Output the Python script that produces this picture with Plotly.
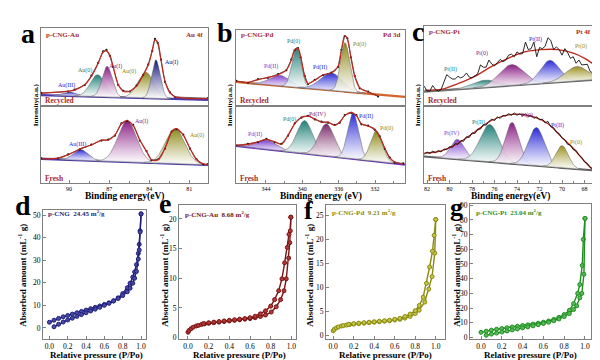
import numpy as np
import plotly.graph_objects as go

# ======================= DATA =======================
# ---- (a) p-CNG-Au, Au 4f ----
a_rec_E   = [92.08, 90.07, 89.57, 88.82, 88.33, 87.82, 87.45, 87.2, 86.95, 86.7, 86.32, 85.95,
             85.45, 84.95, 84.45, 84.07, 83.77, 83.57, 83.37, 83.12, 82.82, 82.45, 82.07, 79.6]
a_rec_fit = [0.163, 0.19, 0.204, 0.275, 0.379, 0.546, 0.69, 0.704, 0.65, 0.504, 0.275, 0.19,
             0.19, 0.254, 0.40, 0.525, 0.712, 0.846, 0.817, 0.588, 0.317, 0.171, 0.121, 0.096]
a_rec_raw = [0.168, 0.185, 0.212, 0.268, 0.388, 0.552, 0.697, 0.716, 0.642, 0.497, 0.268, 0.196,
             0.186, 0.262, 0.394, 0.532, 0.705, 0.856, 0.808, 0.594, 0.309, 0.176, 0.116, 0.101]
a_rec_bg = [0.14, 0.08]
a_rec_names  = ["Au(III)", "Au(0)", "Au(I)", "Au(0)", "Au(I)"]
a_rec_center = [89.95, 87.87, 87.15, 84.27, 83.5]
a_rec_height = [0.05, 0.28, 0.39, 0.33, 0.49]
a_rec_sigma  = [0.5, 0.55, 0.38, 0.6, 0.32]

a_fre_E   = [92.08, 90.83, 90.07, 89.2, 88.33, 87.58, 87.07, 86.57, 86.08, 85.65, 85.2, 84.7,
             84.2, 83.83, 83.32, 82.82, 82.32, 81.95, 81.45, 80.95, 80.45, 79.95, 79.6]
a_fre_fit = [0.312, 0.32, 0.363, 0.44, 0.491, 0.556, 0.556, 0.62, 0.769, 0.812, 0.748, 0.556,
             0.406, 0.299, 0.299, 0.449, 0.662, 0.705, 0.62, 0.449, 0.299, 0.244, 0.235]
a_fre_raw = [0.318, 0.316, 0.369, 0.434, 0.497, 0.55, 0.562, 0.614, 0.775, 0.806, 0.754, 0.55,
             0.412, 0.293, 0.305, 0.443, 0.668, 0.699, 0.626, 0.443, 0.305, 0.238, 0.241]
a_fre_bg = [0.31, 0.23]
a_fre_names  = ["Au(III)", "Au(I)", "Au(0)"]
a_fre_center = [89.12, 85.65, 82.07]
a_fre_height = [0.14, 0.54, 0.46]
a_fre_sigma  = [0.55, 0.7, 0.72]

# ---- (b) p-CNG-Pd, Pd 3d ----
b_rec_E   = [347.27, 345.98, 344.88, 343.78, 342.67, 341.76, 341.21, 340.84, 340.47, 340.18, 339.74,
             339.37, 338.63, 337.72, 336.8, 336.07, 335.7, 335.33, 335.04, 334.67, 334.23, 333.68,
             332.76, 331.66]
b_rec_fit = [0.325, 0.312, 0.346, 0.376, 0.41, 0.474, 0.603, 0.739, 0.752, 0.645, 0.389, 0.295,
             0.338, 0.41, 0.432, 0.517, 0.731, 0.923, 0.88, 0.645, 0.389, 0.239, 0.184, 0.132]
b_rec_raw = [0.33, 0.305, 0.352, 0.37, 0.418, 0.468, 0.61, 0.733, 0.758, 0.639, 0.395, 0.289,
             0.344, 0.404, 0.438, 0.511, 0.737, 0.917, 0.886, 0.639, 0.395, 0.233, 0.19, 0.126]
b_rec_bg = [0.315, 0.12]
b_rec_names  = ["Pd(II)", "Pd(0)", "Pd(II)", "Pd(0)"]
b_rec_center = [342.5, 340.65, 336.8, 335.3]
b_rec_height = [0.14, 0.52, 0.23, 0.64]
b_rec_sigma  = [1.1, 0.5, 1.2, 0.5]

b_fre_E   = [347.27, 345.98, 344.88, 343.96, 343.04, 342.31, 341.57, 340.84, 340.11, 339.37, 338.63,
             337.9, 337.17, 336.43, 335.88, 335.33, 334.6, 334.05, 333.5, 332.76, 332.03, 331.48,
             330.92, 330.37, 329.82, 328.9]
b_fre_fit = [0.491, 0.5, 0.534, 0.564, 0.534, 0.5, 0.62, 0.769, 0.855, 0.868, 0.833, 0.79, 0.79,
             0.748, 0.79, 0.876, 0.919, 0.876, 0.769, 0.739, 0.697, 0.598, 0.449, 0.32, 0.269, 0.244]
b_fre_raw = [0.485, 0.507, 0.528, 0.571, 0.527, 0.506, 0.613, 0.776, 0.849, 0.874, 0.826, 0.797,
             0.783, 0.755, 0.783, 0.883, 0.912, 0.882, 0.762, 0.746, 0.69, 0.605, 0.442, 0.327,
             0.262, 0.25]
b_fre_bg = [0.48, 0.235]
b_fre_names  = ["Pd(II)", "Pd(0)", "Pd(IV)", "Pd(II)", "Pd(0)"]
b_fre_center = [343.96, 339.74, 337.35, 334.4, 331.85]
b_fre_height = [0.12, 0.43, 0.42, 0.60, 0.40]
b_fre_sigma  = [1.1, 0.85, 0.85, 0.6, 0.65]

# ---- (c) p-CNG-Pt, Pt 4f ----
c_rec_E   = [82.2, 80.73, 79.25, 77.76, 76.28, 74.8, 73.32, 71.84, 70.36, 68.87, 67.99, 67.1]
c_rec_fit = [0.2, 0.207, 0.28, 0.37, 0.492, 0.594, 0.675, 0.703, 0.703, 0.654, 0.594, 0.512]
c_rec_raw = [0.248, 0.187, 0.187, 0.256, 0.207, 0.187, 0.207, 0.297, 0.390, 0.362, 0.337, 0.337,
             0.370, 0.350, 0.370, 0.411, 0.362, 0.350, 0.378, 0.402, 0.512, 0.484, 0.484, 0.573,
             0.524, 0.500, 0.541, 0.581, 0.553, 0.573, 0.634, 0.646, 0.614, 0.675, 0.646, 0.654,
             0.797, 0.703, 0.715, 0.797, 0.614, 0.728, 0.715, 0.744, 0.850, 0.817, 0.703, 0.736,
             0.703, 0.634, 0.715, 0.663, 0.594, 0.614, 0.533, 0.573, 0.512, 0.512, 0.520, 0.431,
             0.411, 0.573]
c_rec_bg = [0.18, 0.33]
c_rec_names  = ["Pt(II)", "Pt(0)", "Pt(II)", "Pt(0)"]
c_rec_center = [76.87, 74.5, 71.1, 68.7]
c_rec_height = [0.09, 0.26, 0.28, 0.18]
c_rec_sigma  = [1.1, 1.1, 0.85, 1.0]

c_fre_E   = [82.25, 80.73, 79.25, 77.76, 76.28, 74.8, 73.62, 72.43, 71.25, 70.06, 68.87, 67.99,
             67.25, 66.98]
c_fre_fit = [0.385, 0.415, 0.513, 0.662, 0.812, 0.885, 0.893, 0.855, 0.769, 0.598, 0.427, 0.278,
             0.171, 0.158]
c_fre_raw = [0.37, 0.40, 0.38, 0.41, 0.39, 0.42, 0.40, 0.44, 0.43, 0.47, 0.46, 0.51, 0.50, 0.55,
             0.54, 0.60, 0.59, 0.65, 0.64, 0.70, 0.70, 0.76, 0.75, 0.80, 0.83, 0.81, 0.86, 0.84,
             0.88, 0.87, 0.90, 0.88, 0.91, 0.88, 0.90, 0.87, 0.90, 0.86, 0.88, 0.84, 0.86, 0.82,
             0.83, 0.78, 0.80, 0.73, 0.72, 0.66, 0.64, 0.58, 0.56, 0.50, 0.49, 0.43, 0.42, 0.36,
             0.33, 0.27, 0.25, 0.20, 0.18, 0.15]
c_fre_bg = [0.341, 0.157]
c_fre_names  = ["Pt(IV)", "Pt(II)", "Pt(0)", "Pt(II)", "Pt(0)"]
c_fre_center = [79.3, 76.43, 74.44, 72.28, 70.0]
c_fre_height = [0.26, 0.49, 0.54, 0.50, 0.29]
c_fre_sigma  = [0.6, 0.85, 0.6, 0.72, 0.55]

# ---- (d-g) N2 isotherms ----
d_up_x = [0.0, 0.05, 0.1, 0.15, 0.2, 0.25, 0.3, 0.35, 0.4, 0.45, 0.5, 0.55, 0.6, 0.65, 0.7, 0.75,
          0.8, 0.85, 0.88, 0.91, 0.93, 0.95, 0.97, 0.98, 0.99, 1.0]
d_up_y = [2.5, 3.4, 4.2, 4.9, 5.5, 6.1, 6.7, 7.3, 7.9, 8.5, 9.1, 9.7, 10.4, 11.1, 12.0, 13.3,
          15.2, 17.8, 19.8, 22.5, 24.8, 28.0, 33.0, 37.0, 43.0, 50.5]
d_lo_x = [0.05, 0.1, 0.15, 0.2, 0.25, 0.3, 0.35, 0.4, 0.45, 0.5, 0.55, 0.6, 0.65, 0.7, 0.75, 0.8,
          0.85, 0.88, 0.91, 0.93, 0.95, 0.97, 0.98, 0.99, 1.0]
d_lo_y = [0.5, 1.6, 2.6, 3.5, 4.3, 5.1, 5.9, 6.7, 7.5, 8.3, 9.1, 10.0, 10.9, 11.9, 13.0, 14.3,
          16.0, 17.6, 19.8, 22.0, 25.0, 30.5, 34.5, 42.5, 50.5]

e_lo_x = [0.0, 0.01, 0.03, 0.05, 0.08, 0.1, 0.13, 0.16, 0.2, 0.25, 0.3, 0.35, 0.4, 0.45, 0.5, 0.55,
          0.6, 0.65, 0.7, 0.75, 0.805, 0.854, 0.896, 0.929, 0.951, 0.974, 0.985, 0.995]
e_lo_y = [0.9, 1.2, 1.5, 1.75, 1.95, 2.05, 2.2, 2.3, 2.4, 2.5, 2.6, 2.7, 2.8, 2.9, 3.0, 3.1, 3.2,
          3.35, 3.55, 3.8, 4.3, 5.2, 6.4, 7.9, 9.9, 13.4, 16.0, 20.3]
e_up_x = [0.995, 0.99, 0.977, 0.961, 0.935, 0.909, 0.877, 0.838, 0.8, 0.75, 0.7, 0.65, 0.6, 0.55,
          0.5, 0.45, 0.4, 0.35, 0.3, 0.25, 0.2, 0.15]
e_up_y = [20.3, 18.0, 17.4, 15.2, 12.6, 9.9, 7.9, 6.4, 5.3, 4.5, 4.0, 3.6, 3.35, 3.2, 3.1, 3.0,
          2.9, 2.8, 2.7, 2.6, 2.5, 2.35]

f_lo_x = [0.0, 0.01, 0.03, 0.05, 0.08, 0.1, 0.13, 0.16, 0.2, 0.25, 0.3, 0.35, 0.4, 0.45, 0.5, 0.55,
          0.6, 0.65, 0.7, 0.75, 0.8, 0.838, 0.893, 0.932, 0.964, 0.99, 1.0]
f_lo_y = [1.0, 1.3, 1.6, 1.8, 2.0, 2.1, 2.2, 2.3, 2.4, 2.5, 2.6, 2.7, 2.8, 2.9, 3.0, 3.1, 3.25,
          3.4, 3.65, 4.0, 4.6, 5.3, 7.0, 9.7, 12.3, 17.2, 24.2]
f_up_x = [1.0, 0.984, 0.968, 0.94, 0.91, 0.877, 0.84, 0.8, 0.75, 0.7, 0.65, 0.6, 0.55, 0.5, 0.45,
          0.4, 0.35, 0.3, 0.25, 0.2, 0.15]
f_up_y = [24.2, 20.9, 17.6, 14.3, 10.9, 8.0, 6.3, 5.2, 4.5, 4.0, 3.6, 3.4, 3.2, 3.1, 3.0, 2.9,
          2.8, 2.7, 2.6, 2.5, 2.35]

g_up_x = [0.0, 0.05, 0.1, 0.15, 0.2, 0.25, 0.3, 0.35, 0.4, 0.45, 0.5, 0.55, 0.6, 0.65, 0.7, 0.75,
          0.8, 0.85, 0.89, 0.93, 0.95, 0.974, 0.984, 1.0]
g_up_y = [3.5, 4.3, 5.0, 5.6, 6.1, 6.6, 7.1, 7.6, 8.1, 8.6, 9.1, 9.7, 10.4, 11.2, 12.3, 13.7,
          15.6, 18.5, 23.0, 30.0, 36.0, 49.0, 66.7, 81.0]
g_lo_x = [0.05, 0.1, 0.15, 0.2, 0.25, 0.3, 0.35, 0.4, 0.45, 0.5, 0.55, 0.6, 0.65, 0.7, 0.75, 0.8,
          0.85, 0.89, 0.92, 0.95, 0.97, 0.99, 1.0]
g_lo_y = [1.5, 2.3, 3.0, 3.7, 4.4, 5.1, 5.8, 6.5, 7.2, 7.9, 8.7, 9.5, 10.4, 11.4, 12.6, 14.2,
          16.3, 19.0, 21.5, 27.0, 30.0, 43.0, 81.0]

# ======================= STYLE / LAYOUT =======================
W, H = 600, 360
SER = "Liberation Serif"
DRED = "#a52a2a"
FRAME = "#808080"
TEAL, PURP, BLUE, OLIV, NAVY, VIOL, MAUV = ("#1f8078", "#8b1f86", "#2a2ad6", "#8c8a1a",
                                             "#15157a", "#7b3fd0", "#7a2a6a")

fig = go.Figure()


def px2x(px):
    return px / W


def py2y(py):
    return 1 - py / H


def aname(kind, n):
    return kind + "axis" + ("" if n == 1 else str(n))


def aref(kind, n):
    return kind + ("" if n == 1 else str(n))


def ann(px, py, text, size, color="black", xanchor="center", angle=0, bold=True):
    fig.add_annotation(x=px2x(px), y=py2y(py), xref="paper", yref="paper",
                       text=("<b>%s</b>" % text) if bold else text, showarrow=False,
                       xanchor=xanchor, yanchor="middle", textangle=angle,
                       font=dict(family=SER, size=size, color=color))


def xps_sub(n, xpx, ypx, erange, E_fit, I_fit, I_raw, bg, cen, hgt, sig, colors, labels,
            bottom, dtick, tick0, bgcolor, raw_E=None, raw_style="dots"):
    xr, yr = aref("x", n), aref("y", n)
    grid = np.linspace(erange[0], erange[1], 400)
    base = bg[0] + (bg[1] - bg[0]) * (grid - erange[0]) / (erange[1] - erange[0])
    fig.add_trace(go.Scatter(x=grid, y=base, mode="lines", line=dict(color=bgcolor, width=2.2),
                             xaxis=xr, yaxis=yr, hoverinfo="skip"))
    for c, h, s, col in zip(cen, hgt, sig, colors):
        top = base + h * np.exp(-(grid - c) ** 2 / (2 * s * s))
        m = (top - base) > 0.002
        gx, gt, gb = grid[m], top[m], base[m]
        fig.add_trace(go.Scatter(
            x=np.concatenate([gx, gx[::-1]]), y=np.concatenate([gt, gb[::-1]]),
            mode="lines", fill="toself", line=dict(color="rgba(90,90,90,0.8)", width=0.6),
            fillgradient=dict(type="vertical", colorscale=[[0, "rgba(255,255,255,0.85)"], [1, col]]),
            xaxis=xr, yaxis=yr, hoverinfo="skip"))
    rx = raw_E if raw_E is not None else E_fit
    if raw_style == "dots":
        fig.add_trace(go.Scatter(x=rx, y=I_raw, mode="lines+markers",
                                 line=dict(color="#222", width=0.7),
                                 marker=dict(size=2.2, color="#111"),
                                 xaxis=xr, yaxis=yr, hoverinfo="skip"))
        fig.add_trace(go.Scatter(x=E_fit, y=I_fit, mode="lines", line_shape="spline",
                                 line=dict(color="#c0281e", width=1.2),
                                 xaxis=xr, yaxis=yr, hoverinfo="skip"))
    else:
        fig.add_trace(go.Scatter(x=E_fit, y=I_fit, mode="lines", line_shape="spline",
                                 line=dict(color="#c0281e", width=1.3),
                                 xaxis=xr, yaxis=yr, hoverinfo="skip"))
        fig.add_trace(go.Scatter(x=rx, y=I_raw, mode="lines",
                                 line=dict(color="#111", width=0.9),
                                 xaxis=xr, yaxis=yr, hoverinfo="skip"))
    for (lx, ly, txt, col) in labels:
        fig.add_annotation(x=lx, y=ly, xref=xr, yref=yr, text=txt, showarrow=False,
                           font=dict(family=SER, size=6, color=col))
    fig.layout[aname("x", n)] = dict(
        domain=[px2x(xpx[0]), px2x(xpx[1])], anchor=yr, range=list(erange),
        showline=True, mirror=True, linecolor=FRAME, linewidth=1, showgrid=False, zeroline=False,
        showticklabels=bottom, ticks="inside" if bottom else "", ticklen=3, tickcolor=FRAME,
        tickmode="linear", dtick=dtick, tick0=tick0,
        minor=dict(ticks="inside" if bottom else "", ticklen=2, tickcolor=FRAME, dtick=dtick / 2),
        tickfont=dict(family=SER, size=6, color="black"))
    fig.layout[aname("y", n)] = dict(
        domain=[py2y(ypx[1]), py2y(ypx[0])], anchor=xr, range=[0, 1],
        showline=True, mirror=True, linecolor=FRAME, linewidth=1, showgrid=False, zeroline=False,
        showticklabels=False, ticks="")


# (a)
xps_sub(1, (33, 200), (17, 97), (92.1, 79.6), a_rec_E, a_rec_fit, a_rec_raw, a_rec_bg,
        a_rec_center, a_rec_height, a_rec_sigma, [BLUE, TEAL, PURP, OLIV, NAVY],
        [(90.2, 0.26, a_rec_names[0], BLUE), (88.8, 0.45, a_rec_names[1], TEAL),
         (86.5, 0.51, a_rec_names[2], PURP), (85.5, 0.44, a_rec_names[3], OLIV),
         (82.35, 0.55, a_rec_names[4], NAVY)],
        False, 3, 90, "#4a3ab0")
xps_sub(2, (33, 200), (97, 175), (92.1, 79.6), a_fre_E, a_fre_fit, a_fre_raw, a_fre_bg,
        a_fre_center, a_fre_height, a_fre_sigma, [BLUE, PURP, OLIV],
        [(89.4, 0.50, a_fre_names[0], BLUE), (84.58, 0.80, a_fre_names[1], PURP),
         (80.45, 0.62, a_fre_names[2], OLIV)],
        True, 3, 90, "#4a3ab0")
# (b)
xps_sub(3, (228, 397), (19, 97), (347.3, 328.7), b_rec_E, b_rec_fit, b_rec_raw, b_rec_bg,
        b_rec_center, b_rec_height, b_rec_sigma, [VIOL, TEAL, BLUE, OLIV],
        [(343.4, 0.52, b_rec_names[0], VIOL), (341.0, 0.84, b_rec_names[1], TEAL),
         (338.1, 0.50, b_rec_names[2], BLUE), (333.7, 0.80, b_rec_names[3], OLIV)],
        False, 4, 344, "#d0642a")
xps_sub(4, (228, 397), (97, 175), (347.3, 328.7), b_fre_E, b_fre_fit, b_fre_raw, b_fre_bg,
        b_fre_center, b_fre_height, b_fre_sigma, [VIOL, TEAL, MAUV, BLUE, OLIV],
        [(345.2, 0.63, b_fre_names[0], VIOL), (341.4, 0.83, b_fre_names[1], TEAL),
         (338.3, 0.885, b_fre_names[2], MAUV), (333.0, 0.87, b_fre_names[3], BLUE),
         (330.75, 0.71, b_fre_names[4], OLIV)],
        True, 4, 344, "#6a3ac0")
# (c)
c_rec_rawE = np.linspace(82.25, 67.0, len(c_rec_raw))
c_fre_rawE = np.linspace(82.25, 67.0, len(c_fre_raw))
xps_sub(5, (416, 588), (15, 97), (82.27, 66.98), c_rec_E, c_rec_fit, c_rec_raw, c_rec_bg,
        c_rec_center, c_rec_height, c_rec_sigma, [TEAL, PURP, BLUE, "#9a9020"],
        [(79.9, 0.46, c_rec_names[0], TEAL), (77.1, 0.66, c_rec_names[1], PURP),
         (72.4, 0.825, c_rec_names[2], BLUE), (68.3, 0.74, c_rec_names[3], "#9a9020")],
        False, 2, 82, "#707070", raw_E=c_rec_rawE, raw_style="noisy")
xps_sub(6, (416, 588), (97, 175), (82.27, 66.98), c_fre_E, c_fre_fit, c_fre_raw, c_fre_bg,
        c_fre_center, c_fre_height, c_fre_sigma, [VIOL, TEAL, PURP, BLUE, "#9a9020"],
        [(79.84, 0.64, c_fre_names[0], VIOL), (77.47, 0.79, c_fre_names[1], TEAL),
         (73.08, 0.88, c_fre_names[2], PURP), (70.36, 0.75, c_fre_names[3], BLUE),
         (68.73, 0.53, c_fre_names[4], "#9a9020")],
        True, 2, 82, "#606060", raw_E=c_fre_rawE, raw_style="noisy")


def iso_panel(n, xpx, ypx, xrange_, yrange_, ydtick, branches, col, fillcol):
    xr, yr = aref("x", n), aref("y", n)
    for bx, by in branches:
        fig.add_trace(go.Scatter(x=bx, y=by, mode="lines+markers",
                                 line=dict(color=col, width=1.4),
                                 marker=dict(symbol="circle", size=4, color=fillcol,
                                             line=dict(color=col, width=1)),
                                 xaxis=xr, yaxis=yr, hoverinfo="skip"))
    fig.layout[aname("x", n)] = dict(
        domain=[px2x(xpx[0]), px2x(xpx[1])], anchor=yr, range=list(xrange_),
        showline=True, mirror=True, linecolor=FRAME, linewidth=1, showgrid=False, zeroline=False,
        ticks="inside", ticklen=2.5, tickcolor=FRAME, tickmode="linear", tick0=0, dtick=0.2,
        tickformat=".1f", tickfont=dict(family=SER, size=7.5, color="black"))
    fig.layout[aname("y", n)] = dict(
        domain=[py2y(ypx[1]), py2y(ypx[0])], anchor=xr, range=list(yrange_),
        showline=True, mirror=True, linecolor=FRAME, linewidth=1, showgrid=False, zeroline=False,
        ticks="inside", ticklen=2.5, tickcolor=FRAME, tickmode="linear", tick0=0, dtick=ydtick,
        tickfont=dict(family=SER, size=7.5, color="black"))


iso_panel(7, (35, 138), (203, 334), (-0.07, 1.054), (-4.7, 52.2), 10,
          [(d_up_x, d_up_y), (d_lo_x, d_lo_y)], "#1f1f7a", "#4a4aa8")
iso_panel(8, (171, 288), (198, 334), (-0.087, 1.045), (-0.16, 22.33), 5,
          [(e_lo_x, e_lo_y), (e_up_x, e_up_y)], "#7a1414", "#b03a3a")
iso_panel(9, (318, 437), (198, 334), (-0.07, 1.09), (-0.6, 27.2), 5,
          [(f_lo_x, f_lo_y), (f_up_x, f_up_y)], "#8a8a10", "#c4c448")
iso_panel(10, (462, 583), (197, 334), (-0.106, 1.058), (-0.7, 90.7), 10,
          [(g_up_x, g_up_y), (g_lo_x, g_lo_y)], "#1f8f1f", "#5cb85c")

# ---- XPS texts ----
for (x0, x1, yt, name, core) in [(33, 200, 24, "p-CNG-Au", "Au 4f"),
                                  (228, 397, 24, "p-CNG-Pd", "Pd 3d"),
                                  (416, 588, 21, "p-CNG-Pt", "Pt 4f")]:
    ann(x0 + 3, yt, name, 7, DRED, "left")
    ann(x1 - 3, yt, core, 7, DRED, "right")
    ann(x0 + 2, 91, "Recycled", 7.5, DRED, "left")
    ann(x0 + 2, 171, "Fresh", 7.5, DRED, "left")
for xpos in (28, 222, 410):
    ann(xpos, 96, "Intensity(a.u.)", 7, "black", angle=-90)
ann(116, 189, "Binding energy(eV)", 9.5)
ann(313, 189, "Binding energy (eV)", 9.5)
ann(502, 189, "Binding energy(eV)", 9.5)

# ---- isotherm texts ----
ann(38, 207, "p-CNG  24.45 m<sup>2</sup>/g", 7, "#1f1f7a", "left")
ann(175, 208, "p-CNG-Au  8.68 m<sup>2</sup>/g", 7, "#7a1414", "left")
ann(322, 205, "p-CNG-Pd  9.21 m<sup>2</sup>/g", 7, "#8a8a10", "left")
ann(466, 205, "p-CNG-Pt  23.04 m<sup>2</sup>/g", 7, "#1f8f1f", "left")
for xpos, yc in ((14, 270), (156, 270), (301, 270), (448, 270)):
    ann(xpos, yc, "Absorbed amount (mL<sup>-1</sup> g)", 9, "black", angle=-90)
for xc, yc in ((88, 351), (231, 351), (377, 351), (522, 351)):
    ann(xc, yc, "Relative pressure (P/Po)", 9)

# ---- panel letters ----
for (lx, ly, L, sz) in [(20, 23, "a", 28), (217, 22, "b", 28), (410, 21, "c", 28),
                        (15, 198, "d", 28), (157, 196, "e", 28), (300, 203, "f", 26),
                        (448, 200, "g", 26)]:
    ann(lx, ly, L, sz)

fig.update_layout(width=W, height=H, margin=dict(l=0, r=0, t=0, b=0),
                  paper_bgcolor="white", plot_bgcolor="white", showlegend=False)
fig.write_html("out.html")
